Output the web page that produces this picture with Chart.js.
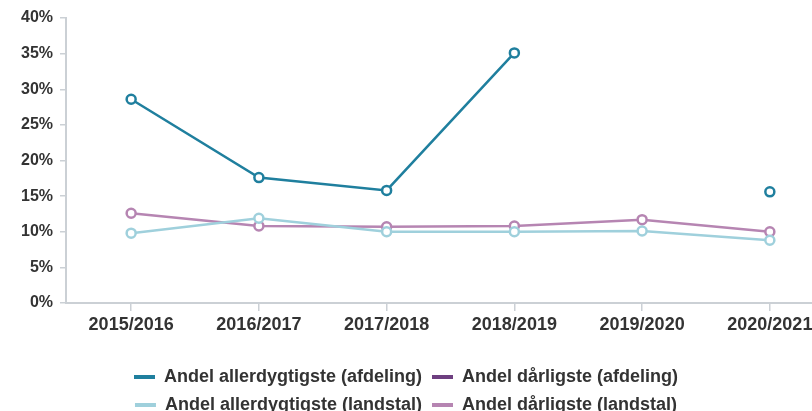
<!DOCTYPE html>
<html>
<head>
<meta charset="utf-8">
<script src="https://cdn.jsdelivr.net/npm/chart.js@4/dist/chart.umd.min.js"></script>
<style>
  html, body { margin: 0; padding: 0; background: #ffffff; overflow: hidden; }
  #wrap { position: relative; width: 812px; height: 424px; }
</style>
</head>
<body>
<div id="wrap"><canvas id="c" width="812" height="424"></canvas></div>
<script>
// ---- data ----
const categories = ['2015/2016', '2016/2017', '2017/2018', '2018/2019', '2019/2020', '2020/2021'];
const seriesNames = [
  'Andel allerdygtigste (afdeling)',
  'Andel dårligste (afdeling)',
  'Andel allerdygtigste (landstal)',
  'Andel dårligste (landstal)'
];
const allerdygtigsteAfdeling = [28.6, 17.6, 15.8, 35.1, null, 15.6];
const daarligsteAfdeling     = [null, null, null, null, null, null];
const allerdygtigsteLandstal = [9.8, 11.9, 10.0, 10.0, 10.1, 8.8];
const daarligsteLandstal     = [12.6, 10.8, 10.7, 10.8, 11.7, 10.0];
const yTicks = [0, 5, 10, 15, 20, 25, 30, 35, 40];

// ---- styles ----
const colors = ['#1f7f9e', '#6e3f80', '#9fd0dc', '#b685b2'];
const seriesValues = [allerdygtigsteAfdeling, daarligsteAfdeling, allerdygtigsteLandstal, daarligsteLandstal];
const axisColor = '#cbd0d5';
const textColor = '#333333';
const FONT = "'Liberation Sans', Arial, sans-serif";

const datasets = seriesValues.map((vals, k) => ({
  label: seriesNames[k],
  data: vals.map((v, i) => ({ x: i, y: v })),
  borderColor: colors[k],
  backgroundColor: colors[k],
  borderWidth: 2.5,
  pointRadius: 4.5,
  pointHoverRadius: 4.5,
  pointBorderWidth: 2.5,
  pointBackgroundColor: '#ffffff',
  pointBorderColor: colors[k],
  tension: 0,
  spanGaps: false,
  fill: false
}));

new Chart(document.getElementById('c'), {
  type: 'line',
  data: { datasets },
  options: {
    responsive: false,
    animation: false,
    devicePixelRatio: 1,
    layout: { autoPadding: false, padding: { top: 18, left: 0, right: 0, bottom: 0 } },
    plugins: {
      tooltip: { enabled: false },
      title: { display: false },
      legend: {
        display: true,
        position: 'bottom',
        align: 'center',
        labels: {
          boxWidth: 21,
          boxHeight: 4,
          padding: 10,
          color: textColor,
          font: { family: FONT, size: 18, weight: 'bold' },
          generateLabels: (chart) => {
            const items = Chart.defaults.plugins.legend.labels.generateLabels(chart);
            return items.map(it => Object.assign(it, { lineWidth: 0, fillStyle: it.strokeStyle }));
          }
        }
      }
    },
    scales: {
      x: {
        type: 'linear',
        min: -0.51,
        max: 5.33,
        afterBuildTicks: (s) => { s.ticks = categories.map((c, i) => ({ value: i })); },
        afterFit: (s) => { s.height = 55; s.paddingLeft = 0; s.paddingRight = 0; },
        ticks: {
          autoSkip: false,
          maxRotation: 0,
          minRotation: 0,
          padding: 3,
          color: textColor,
          font: { family: FONT, size: 18, weight: 'bold' },
          callback: (v) => categories[v] !== undefined ? categories[v] : ''
        },
        grid: { display: true, drawOnChartArea: false, drawTicks: true, tickLength: 8, color: axisColor, lineWidth: 1.5 },
        border: { display: true, color: axisColor, width: 2 }
      },
      y: {
        min: 0,
        max: 40,
        afterBuildTicks: (s) => { s.ticks = yTicks.map(v => ({ value: v })); },
        afterFit: (s) => { s.width = 66; },
        ticks: {
          padding: 7,
          color: textColor,
          font: { family: FONT, size: 16, weight: 'bold' },
          callback: (v) => v + '%'
        },
        grid: { display: true, drawOnChartArea: false, drawTicks: true, tickLength: 6, color: axisColor, lineWidth: 1.5 },
        border: { display: true, color: axisColor, width: 2 }
      }
    }
  }
});
</script>
</body>
</html>
